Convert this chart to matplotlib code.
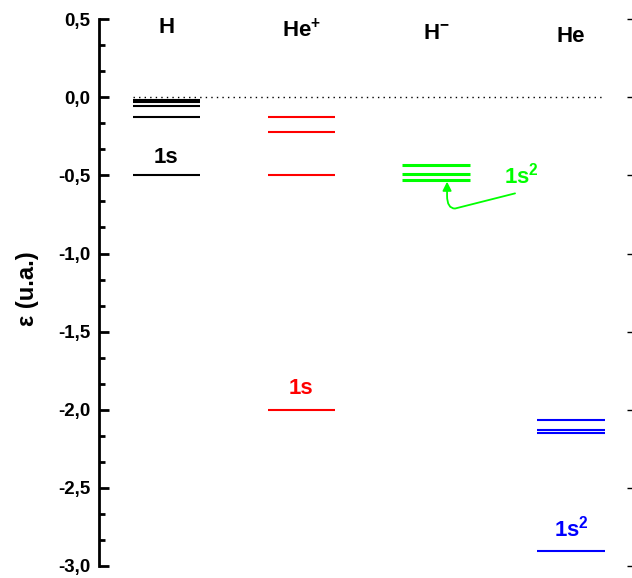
import matplotlib
matplotlib.use('Agg')
import matplotlib.pyplot as plt
from matplotlib.ticker import MultipleLocator, AutoMinorLocator, FuncFormatter
from matplotlib.patches import FancyArrowPatch
from matplotlib.path import Path

plt.rcParams['font.family'] = ['Liberation Sans Narrow', 'Liberation Sans', 'DejaVu Sans']
plt.rcParams['font.weight'] = 'bold'
plt.rcParams['mathtext.fontset'] = 'custom'
plt.rcParams['mathtext.rm'] = 'Liberation Sans:bold'
plt.rcParams['mathtext.bf'] = 'Liberation Sans:bold'
plt.rcParams['mathtext.it'] = 'Liberation Sans:bold'
plt.rcParams['mathtext.default'] = 'rm'

# species columns and their energy levels (u.a.)
species = ['H', r'He$^{+}$', r'H$^{-}$', 'He']
colors = ['black', '#ff0000', '#00ff00', '#0000ff']
levels_H = [-0.5, -0.125, -0.0556, -0.03125, -0.02]
levels_He_plus = [-2.0, -0.5, -0.222, -0.125]
levels_H_minus = [-0.528, -0.488, -0.432]
levels_He = [-2.904, -2.146, -2.13, -2.064]
all_levels = [levels_H, levels_He_plus, levels_H_minus, levels_He]

ground_labels = ['1s', '1s', r'1s$^{2}$', r'1s$^{2}$']
ground_label_y = [-0.385, -1.865, -0.5, -2.76]
ground_label_x = [1.0, 2.0, 3.63, 4.0]
title_y = [0.45, 0.43, 0.41, 0.39]

fig = plt.figure(figsize=(6.32, 5.78), dpi=100)
ax = fig.add_axes([0.1566, 0.0208, 0.8536, 0.946])

hw = 0.25
for i, lev in enumerate(all_levels):
    xc = i + 1
    lw = 2.2 if i == 2 else 1.5
    for e in lev:
        ax.plot([xc - hw, xc + hw], [e, e], color=colors[i], lw=lw, solid_capstyle='butt')
    ax.text(xc, title_y[i], species[i], ha='center', va='center', fontsize=16,
            fontweight='bold', color='black')
    ax.text(ground_label_x[i], ground_label_y[i], ground_labels[i], ha='center', va='center',
            fontsize=16, fontweight='bold', color=colors[i])

# dotted zero line
ax.plot([0.75, 4.25], [0, 0], color='black', lw=1, ls=(0, (1, 3)))

# arrow to H- ground state
arrow_path = Path([(3.585, -0.615), (3.14, -0.712), (3.081, -0.712), (3.081, -0.63), (3.081, -0.54)],
                  [Path.MOVETO, Path.LINETO, Path.CURVE3, Path.CURVE3, Path.LINETO])
arr = FancyArrowPatch(path=arrow_path, arrowstyle='-|>', color='#00ff00', lw=1.3,
                      mutation_scale=13, transform=ax.transData)
ax.add_patch(arr)

ax.set_xlim(0.5, 4.5)
ax.set_ylim(-3.0, 0.5)
ax.yaxis.set_major_locator(MultipleLocator(0.5))
ax.yaxis.set_minor_locator(AutoMinorLocator(3))
ax.yaxis.set_major_formatter(FuncFormatter(lambda v, p: ('%.1f' % v).replace('-0.0', '0.0').replace('.', ',')))
ax.tick_params(axis='y', which='major', direction='in', length=7, width=2, labelsize=13.5, pad=6)
ax.tick_params(axis='y', which='minor', direction='in', length=4, width=2)
ax.tick_params(axis='y', which='major', right=True, labelright=False)
ax.tick_params(axis='y', which='minor', right=False)
ax.set_xticks([])
for t in ax.get_yticklabels():
    t.set_fontweight('bold')
for s in ['top', 'bottom', 'right']:
    ax.spines[s].set_visible(False)
ax.spines['left'].set_linewidth(2)
for t in ax.yaxis.get_major_ticks():
    t.tick2line.set_color('#aaaaaa')
    t.tick2line.set_markeredgewidth(1)
    t.tick2line.set_markersize(8)

fig.text(0.044, 0.5, 'ε (u.a.)', rotation=90, ha='center', va='center',
         fontsize=17, fontweight='bold', family=['Liberation Sans', 'DejaVu Sans'])

fig.savefig('out.png', dpi=100)
